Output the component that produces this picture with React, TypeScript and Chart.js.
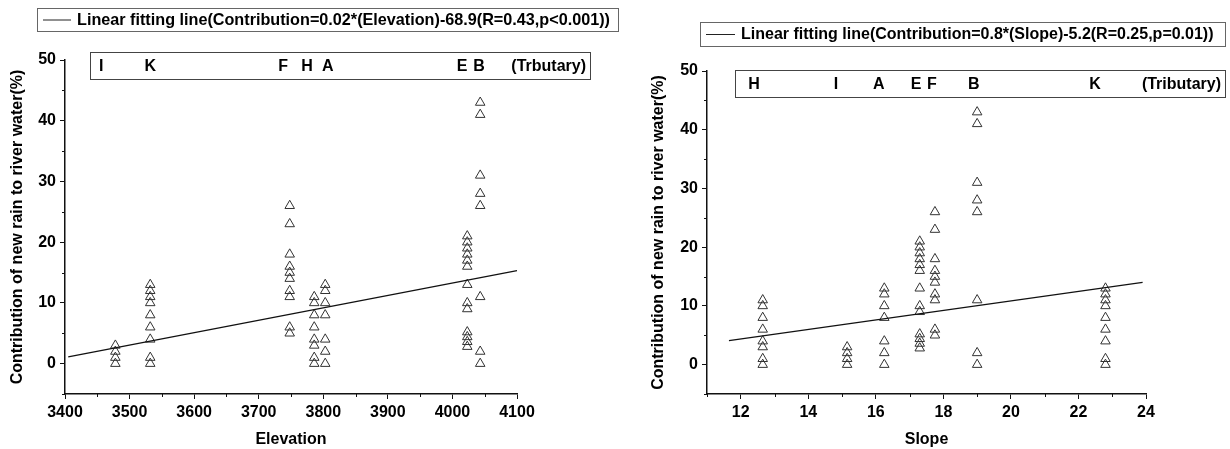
import React, { useEffect, useRef } from "react";
import { Chart, registerables } from "chart.js";

Chart.register(...registerables);

// ---------- data ----------
// contribution of new rain (%) for each tributary
const valuesH = [11, 10, 8, 6, 4, 3, 1, 0];
const valuesI = [3, 2, 1, 0];
const valuesA = [13, 12, 10, 8, 4, 2, 0];
const valuesE = [21, 20, 19, 18, 17, 16, 13, 10, 9, 5.2, 4.4, 3.6, 2.8];
const valuesF = [26, 23, 18, 16, 15, 14, 12, 11, 6, 5];
const valuesB = [43, 41, 31, 28, 26, 11, 2, 0];
const valuesK = [13, 12, 11, 10, 8, 6, 4, 1, 0];

const tributaries = ["H", "I", "A", "E", "F", "B", "K"];
const groupValues = [valuesH, valuesI, valuesA, valuesE, valuesF, valuesB, valuesK];
const elevations = [3786, 3478, 3803, 4023, 3748, 4043, 3532];
const slopes = [12.65, 15.15, 16.25, 17.3, 17.75, 19.0, 22.8];

// fitted lines
const fitElevX = [3405, 4100];
const fitElevY = [1.1, 15.3];
const fitSlopeX = [11.65, 23.9];
const fitSlopeY = [4.1, 14.0];

// tick labels / axis ranges
const elevRange = [3400, 4100];
const slopeRange = [11, 24];
const contribRange = [-5, 50];

// letter header positions (in axis units)
const elevLetters = ["I", "K", "F", "H", "A", "E", "B"];
const elevLetterX = [3456, 3532, 3738, 3775, 3807, 4015, 4041];
const slopeLetters = ["H", "I", "A", "E", "F", "B", "K"];
const slopeLetterX = [12.39, 14.82, 16.09, 17.19, 17.66, 18.9, 22.49];

const FONT = "'Liberation Sans', Arial, sans-serif";

const decorPlugin = {
  id: "decor",
  afterDraw(chart: any) {
    const cfg = chart.options.plugins.decor;
    const ctx = chart.ctx;
    const xs = chart.scales.x;
    const ys = chart.scales.y;
    ctx.save();
    // minor ticks
    ctx.strokeStyle = "#111";
    ctx.lineWidth = 1;
    xs.ticks.forEach((t: any) => {
      if (Math.round(t.value / cfg.xMajor) * cfg.xMajor !== t.value) {
        const px = Math.round(xs.getPixelForValue(t.value)) + 0.5;
        ctx.beginPath();
        ctx.moveTo(px, xs.top);
        ctx.lineTo(px, xs.top + 3);
        ctx.stroke();
      }
    });
    ys.ticks.forEach((t: any) => {
      if (Math.round(t.value / 10) * 10 !== t.value) {
        const py = Math.round(ys.getPixelForValue(t.value)) + 0.5;
        ctx.beginPath();
        ctx.moveTo(ys.right, py);
        ctx.lineTo(ys.right - 3, py);
        ctx.stroke();
      }
    });
    // legend box
    const L = cfg.legend;
    ctx.strokeStyle = "#666";
    ctx.lineWidth = 1;
    ctx.strokeRect(L.box[0] + 0.5, L.box[1] + 0.5, L.box[2], L.box[3]);
    ctx.strokeStyle = "#222";
    ctx.beginPath();
    ctx.moveTo(L.line[0], L.box[1] + L.box[3] / 2 + 0.5);
    ctx.lineTo(L.line[1], L.box[1] + L.box[3] / 2 + 0.5);
    ctx.stroke();
    ctx.fillStyle = "#000";
    ctx.font = `bold ${L.size}px ${FONT}`;
    ctx.textAlign = "left";
    ctx.textBaseline = "middle";
    ctx.fillText(L.text, L.textX, L.box[1] + L.box[3] / 2 + 1);
    // annotation box
    const A = cfg.annot;
    ctx.strokeStyle = "#444";
    ctx.strokeRect(A.box[0] + 0.5, A.box[1] + 0.5, A.box[2], A.box[3]);
    ctx.font = `bold 16px ${FONT}`;
    ctx.textAlign = "center";
    const cy = A.box[1] + A.box[3] / 2 + 1;
    A.letters.forEach((s: string, i: number) => {
      ctx.fillText(s, xs.getPixelForValue(A.letterX[i]), cy);
    });
    ctx.textAlign = "right";
    ctx.fillText(A.trib, A.box[0] + A.box[2] - 4, cy);
    ctx.restore();
  },
};

function makeChart(canvas: HTMLCanvasElement, c: any) {
  const points: any[] = [];
  groupValues.forEach((vals, g) => {
    vals.forEach((v) => points.push({ x: c.groupX[g], y: v }));
  });
  const tickFont = { family: FONT, size: 16, weight: "bold" as const };
  const titleFont = { family: FONT, size: 16, weight: "bold" as const };
  return new Chart(canvas, {
    type: "scatter",
    data: {
      datasets: [
        {
          type: "scatter",
          data: points,
          pointStyle: "triangle",
          pointRadius: 5.5,
          pointBackgroundColor: "rgba(0,0,0,0)",
          pointBorderColor: "#333",
          pointBorderWidth: 1,
          order: 2,
        } as any,
        {
          type: "line",
          data: c.fitX.map((x: number, i: number) => ({ x, y: c.fitY[i] })),
          borderColor: "#111",
          borderWidth: 1.3,
          pointRadius: 0,
          fill: false,
          order: 1,
          clip: false,
        } as any,
      ],
    },
    options: {
      responsive: false,
      animation: false,
      devicePixelRatio: 1,
      layout: { padding: { left: 0, right: c.width - c.area.right, top: c.area.top, bottom: 0 } },
      plugins: {
        legend: { display: false },
        tooltip: { enabled: false },
        decor: { legend: c.legend, annot: c.annot, xMajor: c.xMajor },
      } as any,
      scales: {
        x: {
          type: "linear",
          min: c.xRange[0],
          max: c.xRange[1],
          afterFit: (s: any) => {
            s.height = c.height - c.area.bottom;
          },
          ticks: {
            stepSize: c.xStep,
            maxTicksLimit: 100,
            autoSkip: false,
            maxRotation: 0,
            padding: 4,
            color: "#000",
            font: tickFont,
            callback: (v: any) => (Math.round(v / c.xMajor) * c.xMajor === v ? String(v) : ""),
          },
          grid: {
            drawOnChartArea: false,
            tickLength: 5,
            tickWidth: 1,
            tickColor: (ctx: any) =>
              ctx.tick && Math.round(ctx.tick.value / c.xMajor) * c.xMajor === ctx.tick.value ? "#111" : "rgba(0,0,0,0)",
          },
          border: { color: "#111", width: 1.5 },
          title: { display: true, text: c.xTitle, color: "#000", font: titleFont, padding: { top: 0, bottom: 0 } },
        },
        y: {
          type: "linear",
          min: contribRange[0],
          max: contribRange[1],
          afterFit: (s: any) => {
            s.width = c.area.left;
          },
          ticks: {
            stepSize: 5,
            maxTicksLimit: 100,
            autoSkip: false,
            padding: 4,
            color: "#000",
            font: tickFont,
            callback: (v: any) => (v >= 0 && v % 10 === 0 ? String(v) : ""),
          },
          grid: {
            drawOnChartArea: false,
            tickLength: 5,
            tickWidth: 1,
            tickColor: (ctx: any) =>
              ctx.tick && ctx.tick.value % 10 === 0 && ctx.tick.value >= 0 ? "#111" : "rgba(0,0,0,0)",
          },
          border: { color: "#111", width: 1.5 },
          title: {
            display: true,
            text: "Contribution of new rain to river water(%)",
            color: "#000",
            font: titleFont,
            padding: { top: c.yTitlePad, bottom: 0 },
          },
        },
      },
    } as any,
    plugins: [decorPlugin],
  });
}

function ChartPanel({ cfg, left }: { cfg: any; left: number }) {
  const ref = useRef<HTMLCanvasElement>(null);
  useEffect(() => {
    if (!ref.current) return;
    const ch = makeChart(ref.current, cfg);
    return () => ch.destroy();
  }, []);
  return (
    <canvas
      ref={ref}
      width={cfg.width}
      height={cfg.height}
      style={{ position: "absolute", left, top: 0, width: cfg.width, height: cfg.height }}
    />
  );
}

const leftCfg = {
  width: 620,
  height: 449,
  area: { left: 65, right: 517, top: 60, bottom: 394 },
  yTitlePad: 8,
  xRange: elevRange,
  xStep: 50,
  xMajor: 100,
  xTitle: "Elevation",
  groupX: elevations,
  fitX: fitElevX,
  fitY: fitElevY,
  legend: {
    box: [37, 8, 581, 23],
    line: [43, 71],
    textX: 77,
    size: 16.2,
    text: "Linear fitting line(Contribution=0.02*(Elevation)-68.9(R=0.43,p<0.001))",
  },
  annot: { box: [90, 52, 500, 27], letters: elevLetters, letterX: elevLetterX, trib: "(Trbutary)" },
};

const rightCfg = {
  width: 610,
  height: 449,
  area: { left: 87, right: 526, top: 71, bottom: 394 },
  yTitlePad: 29,
  xRange: slopeRange,
  xStep: 1,
  xMajor: 2,
  xTitle: "Slope",
  groupX: slopes,
  fitX: fitSlopeX,
  fitY: fitSlopeY,
  legend: {
    box: [80, 22, 525, 24],
    line: [86, 115],
    textX: 121,
    size: 16,
    text: "Linear fitting line(Contribution=0.8*(Slope)-5.2(R=0.25,p=0.01))",
  },
  annot: { box: [115, 70, 490, 27], letters: slopeLetters, letterX: slopeLetterX, trib: "(Tributary)" },
};

export default function App() {
  return (
    <div style={{ position: "fixed", left: 0, top: 0, width: 1230, height: 449, background: "#fff" }}>
      <ChartPanel cfg={leftCfg} left={0} />
      <ChartPanel cfg={rightCfg} left={620} />
    </div>
  );
}
